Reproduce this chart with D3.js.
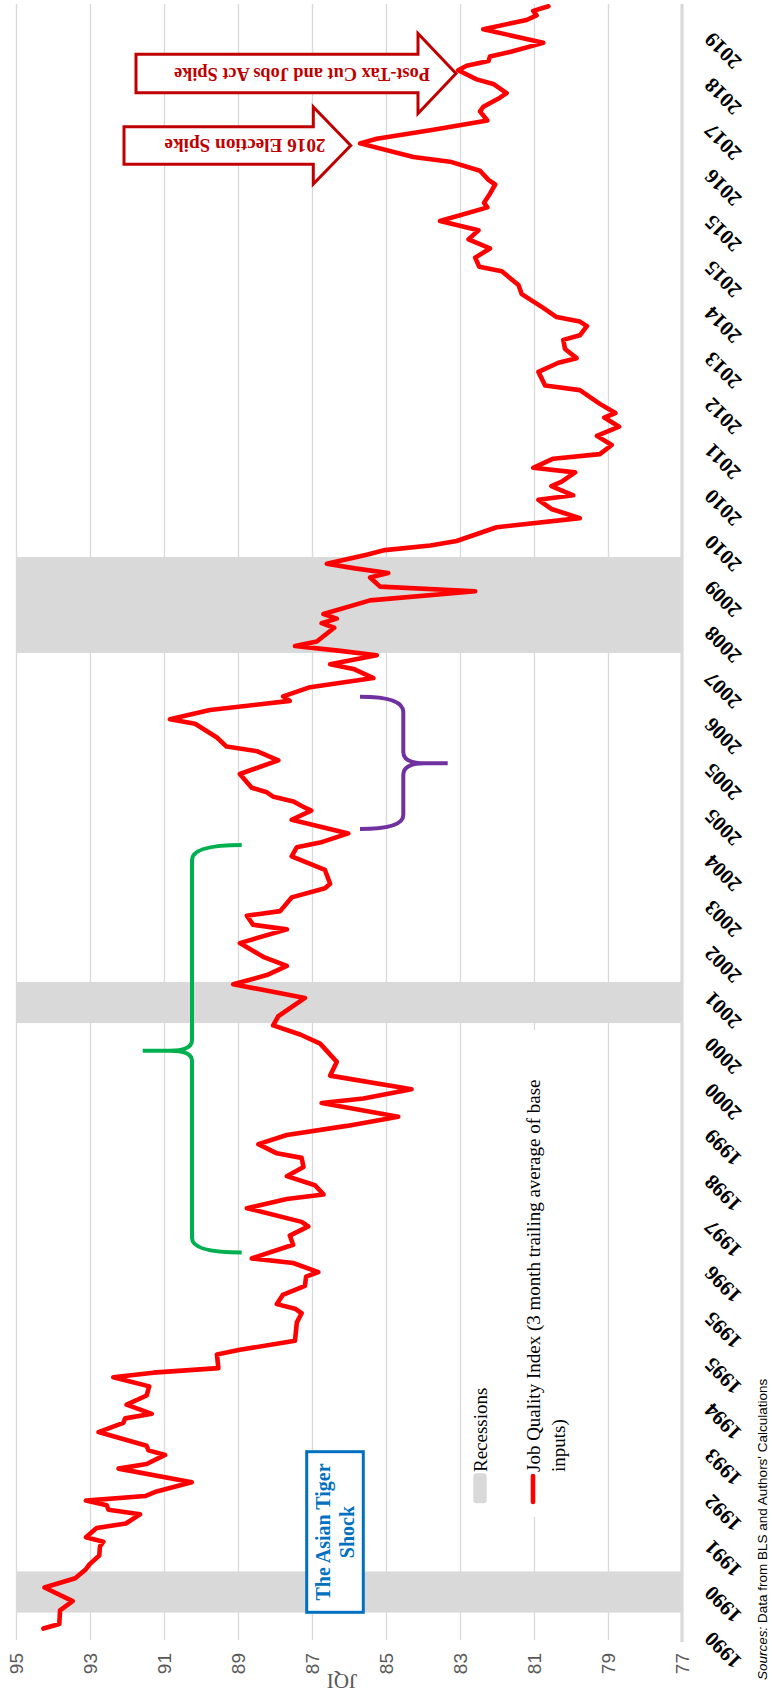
<!DOCTYPE html>
<html><head><meta charset="utf-8">
<script src="https://cdn.jsdelivr.net/npm/d3@7"></script>
<style>body{margin:0;background:#fff}</style>
</head><body>
<svg id="chart" width="772" height="1696"></svg>
<script>
// ---- data (monthly, category axis starts Jan 1990) ----
const dates = [
"1990-03","1990-04","1990-07","1990-09","1990-12","1991-02","1991-04","1991-05","1991-07","1991-09","1991-10","1991-11",
"1992-01","1992-02","1992-04","1992-05","1992-06","1992-07","1992-08","1992-09","1992-11",
"1993-02","1993-03","1993-05","1993-06","1993-07","1993-10","1993-12",
"1994-01","1994-02","1994-04","1994-06","1994-08","1994-10","1994-11","1994-12",
"1995-03","1995-04","1995-06","1995-10","1995-12",
"1996-01","1996-02","1996-04","1996-06","1996-08","1996-09","1996-11","1996-12",
"1997-03","1997-05","1997-07","1997-08","1997-11",
"1998-01","1998-02","1998-04","1998-06","1998-08","1998-10","1998-11",
"1999-01","1999-03","1999-05","1999-07","1999-10","1999-11",
"2000-01","2000-04","2000-07","2000-11",
"2001-01","2001-03","2001-05","2001-09","2001-12",
"2002-02","2002-04","2002-06","2002-09","2002-12",
"2003-01","2003-03","2003-04","2003-07","2003-09","2003-10",
"2004-01","2004-04","2004-06","2004-07","2004-09","2004-12",
"2005-02","2005-03","2005-04","2005-05","2005-06","2005-07","2005-10",
"2006-01","2006-03","2006-04","2006-06","2006-09","2006-10","2006-12",
"2007-02","2007-03","2007-05","2007-07","2007-09","2007-10","2007-12",
"2008-01","2008-02","2008-03","2008-06","2008-07","2008-08","2008-09","2008-12",
"2009-02","2009-03","2009-05","2009-06","2009-07","2009-08","2009-10","2009-11","2009-12",
"2010-01","2010-04","2010-06","2010-08","2010-10","2010-11",
"2011-01","2011-02","2011-04","2011-05","2011-07","2011-08","2011-10","2011-12",
"2012-02","2012-04","2012-05","2012-07","2012-10","2012-11",
"2013-02","2013-04","2013-05","2013-07","2013-09","2013-10","2013-12",
"2014-01","2014-02","2014-04","2014-07","2014-09","2014-12",
"2015-01","2015-03","2015-05","2015-07","2015-09","2015-11",
"2016-02","2016-03","2016-05","2016-07","2016-08","2016-10","2016-12",
"2017-01","2017-04","2017-05","2017-07","2017-09","2017-11","2017-12",
"2018-02","2018-03","2018-05","2018-06","2018-08","2018-09","2018-10","2018-11","2018-12",
"2019-02","2019-05","2019-07","2019-08","2019-09","2019-10"];
const jqi = [
94.26,93.83,93.81,93.47,94.23,93.40,93.11,93.02,92.75,92.73,92.64,93.11,
92.82,92.03,91.65,92.50,92.55,93.11,91.51,91.20,90.25,
92.23,91.47,90.97,91.42,91.47,92.77,92.10,
92.05,91.33,92.01,91.47,91.40,92.37,91.29,89.53,
89.57,88.95,87.46,87.41,87.28,
87.46,87.95,87.79,87.19,87.16,86.83,87.51,88.63,
87.51,87.60,87.10,87.28,88.76,
87.68,86.69,86.92,87.68,87.23,87.28,87.95,
88.45,87.68,86.06,84.67,86.74,85.61,
84.31,86.51,86.33,86.78,
87.32,88.05,87.91,87.19,89.13,
88.22,87.68,88.32,88.95,87.68,
88.59,88.76,87.86,87.55,86.65,86.51,
86.65,87.55,87.41,86.78,86.02,87.55,
87.02,87.28,87.50,88.04,88.22,88.63,88.95,
87.91,88.49,89.31,89.57,90.16,90.84,89.76,
87.60,87.78,87.05,85.34,85.88,86.51,85.25,
86.29,87.46,86.87,86.40,86.74,86.33,86.69,85.43,
82.59,85.16,85.43,84.94,85.84,86.60,85.52,85.03,83.80,
83.09,82.01,79.76,80.53,80.88,79.94,
80.53,80.25,79.89,81.02,80.48,79.22,78.90,79.30,
78.70,79.10,78.80,79.22,79.76,80.70,
80.88,80.34,79.85,80.16,80.21,79.76,79.57,
79.76,80.39,80.75,81.33,81.42,81.87,
82.48,82.59,82.19,82.77,82.50,83.54,
82.26,82.35,82.19,82.05,82.23,82.46,83.27,
84.26,85.70,85.25,83.72,82.26,82.46,82.37,
81.92,81.74,82.10,82.55,83.05,82.82,82.23,82.19,81.65,
80.75,82.37,81.20,80.93,81.02,80.61];
const recessions = [["1990-07","1991-03"],["2001-04","2001-12"],["2008-01","2009-09"]];
const valueTicks = [95,93,91,89,87,85,83,81,79,77];
const yearTickLabels = ["1990","1990","1991","1992","1993","1994","1995","1995","1996","1997","1998","1999",
"2000","2000","2001","2002","2003","2004","2005","2005","2006","2007","2008","2009",
"2010","2010","2011","2012","2013","2014","2015","2015","2016","2017","2018","2019"];
const firstMonth = "1990-01", lastMonth = "2019-10", tickEvery = 10;

// ---- helpers ----
const monthIdx = s => { const [yy, mm] = s.split("-").map(Number); return (yy - 1990) * 12 + (mm - 1); };
const nCat = monthIdx(lastMonth) - monthIdx(firstMonth) + 1;

const SERIF = "'Liberation Serif', serif", SANS = "'Liberation Sans', sans-serif";
const svg = d3.select("#chart");
const plot = {left: 16, right: 682, top: 4, bottom: 1640};

// value axis runs horizontally (95 on the left), time runs bottom -> top
const x = d3.scaleLinear().domain([77, 95]).range([plot.right, plot.left]);
const y = d3.scaleLinear().domain([-0.5, nCat - 0.5]).range([plot.bottom, plot.top]);

// gridlines
const grid = svg.append("g").attr("transform", `translate(0,${plot.bottom})`)
  .call(d3.axisBottom(x).tickValues(valueTicks.slice(0, -1)).tickSize(-(plot.bottom - plot.top)).tickFormat(""));
grid.select(".domain").remove();
grid.selectAll("line").attr("stroke", "#d9d9d9").attr("stroke-width", 1.3);

// recession bands
svg.append("g").selectAll("rect").data(recessions).join("rect")
  .attr("x", x(95)).attr("width", x(77) - x(95))
  .attr("y", d => y(monthIdx(d[1]) + 0.5))
  .attr("height", d => y(monthIdx(d[0]) - 0.5) - y(monthIdx(d[1]) + 0.5))
  .attr("fill", "#d9d9d9");

// category axis line (at 77)
svg.append("line").attr("x1", x(77)).attr("x2", x(77)).attr("y1", plot.top).attr("y2", plot.bottom + 2)
  .attr("stroke", "#d9d9d9").attr("stroke-width", 3.2);

// value tick labels
const vAxis = svg.append("g").attr("transform", `translate(0,${plot.bottom})`)
  .call(d3.axisBottom(x).tickValues(valueTicks).tickSize(0));
vAxis.select(".domain").remove();
vAxis.selectAll("text").attr("transform", "rotate(-90)").attr("x", -13).attr("y", 0).attr("dy", "0.35em")
  .attr("text-anchor", "end").attr("font-family", SANS).attr("font-size", 19).attr("fill", "#595959");

// year tick labels
const tAxis = svg.append("g").attr("transform", `translate(${plot.right},0)`)
  .call(d3.axisRight(y).tickValues(d3.range(0, yearTickLabels.length * tickEvery, tickEvery))
    .tickSize(0).tickFormat(i => yearTickLabels[i / tickEvery]));
tAxis.select(".domain").remove();
tAxis.selectAll("text").attr("x", 0).attr("dy", 0).attr("transform", "translate(31,-8) rotate(-135)")
  .attr("text-anchor", "end").attr("font-family", SERIF).attr("font-weight", "bold").attr("font-size", 21).attr("fill", "#000");

// axis title
svg.append("text").attr("transform", `translate(${(plot.left + plot.right) / 2 - 7},1681) rotate(180)`)
  .attr("text-anchor", "middle").attr("dy", "0.35em").attr("font-family", SERIF).attr("font-size", 21)
  .attr("fill", "#595959").text("JQI");

// series line
const series = d3.zip(dates, jqi).map(([d, v]) => ({i: monthIdx(d), v}));
svg.append("path").datum(series)
  .attr("d", d3.line().x(d => x(d.v)).y(d => y(d.i)))
  .attr("fill", "none").attr("stroke", "#ff0000").attr("stroke-width", 4.6)
  .attr("stroke-linejoin", "round").attr("stroke-linecap", "round");

// braces
svg.append("path")
  .attr("d", "M241.7,845 Q192,845 192,860 L192,1040 Q192,1050.7 170,1050.7 L142.7,1050.7 M170,1050.7 Q192,1050.7 192,1061 L192,1238 Q192,1252.5 241.7,1252.5")
  .attr("fill", "none").attr("stroke", "#00b050").attr("stroke-width", 4);
svg.append("path")
  .attr("d", "M360,696.7 Q403.3,696.7 403.3,712 L403.3,752 Q403.3,763.3 425,763.3 L447.7,763.3 M425,763.3 Q403.3,763.3 403.3,775 L403.3,815 Q403.3,829 360,829")
  .attr("fill", "none").attr("stroke", "#7030a0").attr("stroke-width", 4);

// block arrows
function blockArrow(x0, xBase, xTip, cy, bodyH, headH, label, fs) {
  const pts = [[x0, cy - bodyH], [xBase, cy - bodyH], [xBase, cy - headH], [xTip, cy], [xBase, cy + headH], [xBase, cy + bodyH], [x0, cy + bodyH]];
  svg.append("polygon").attr("points", pts.map(p => p.join(",")).join(" "))
    .attr("fill", "#fff").attr("stroke", "#c00000").attr("stroke-width", 3);
  return svg.append("text").attr("text-anchor", "middle").attr("dy", "0.35em")
    .attr("font-family", SERIF).attr("font-weight", "bold").attr("font-size", fs).attr("fill", "#c00000").text(label);
}
blockArrow(136, 418, 456, 73.5, 19.2, 40, "Post-Tax Cut and Jobs Act Spike", 18.3)
  .attr("transform", "translate(302,74) rotate(180)");
blockArrow(124, 313.3, 350.7, 145.5, 18.8, 38.5, "2016 Election Spike", 19.2)
  .attr("transform", "translate(245,145.5) rotate(180)");

// Asian Tiger box
svg.append("rect").attr("x", 306.7).attr("y", 1451.7).attr("width", 56.6).attr("height", 160.6)
  .attr("fill", "#fff").attr("stroke", "#0070c0").attr("stroke-width", 3);
[["The Asian Tiger", 323.3], ["Shock", 346.7]].forEach(([t, cx]) => {
  svg.append("text").attr("transform", `translate(${cx},1532) rotate(-90)`).attr("text-anchor", "middle").attr("dy", "0.35em")
    .attr("font-family", SERIF).attr("font-weight", "bold").attr("font-size", 20).attr("fill", "#0070c0").text(t);
});

// legend
svg.append("rect").attr("x", 466).attr("y", 1030).attr("width", 110).attr("height", 487).attr("fill", "#fff");
svg.append("rect").attr("x", 473.3).attr("y", 1473.3).attr("width", 13.4).attr("height", 30).attr("rx", 3)
  .attr("fill", "#d9d9d9");
svg.append("line").attr("x1", 533).attr("x2", 533).attr("y1", 1476).attr("y2", 1502)
  .attr("stroke", "#ff0000").attr("stroke-width", 4.6).attr("stroke-linecap", "round");
[["Recessions", 480], ["Job Quality Index (3 month trailing average of base", 533], ["inputs)", 558]].forEach(([t, cx]) => {
  svg.append("text").attr("transform", `translate(${cx},1472) rotate(-90)`).attr("dy", "0.35em")
    .attr("font-family", SERIF).attr("font-size", 19).attr("fill", "#000").text(t);
});

// source note
const src = svg.append("text").attr("transform", "translate(767,1680) rotate(-90)")
  .attr("font-family", SANS).attr("font-size", 13.5).attr("fill", "#000");
src.append("tspan").attr("font-style", "italic").text("Sources:");
src.append("tspan").text(" Data from BLS and Authors' Calculations");
</script>
</body></html>
